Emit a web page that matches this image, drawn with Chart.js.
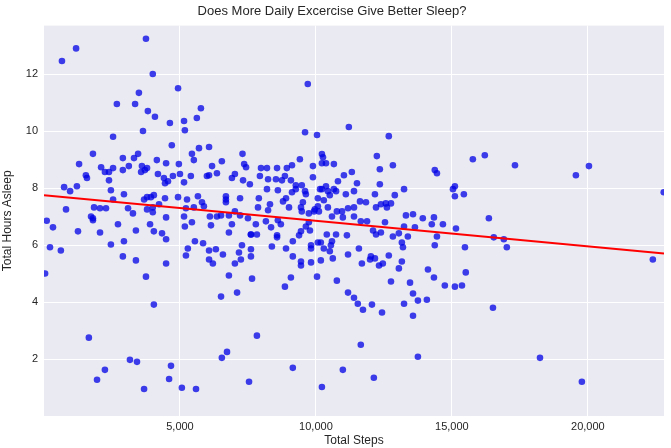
<!DOCTYPE html>
<html><head><meta charset="utf-8">
<script src="https://cdn.jsdelivr.net/npm/chart.js@4"></script>
<style>html,body{margin:0;padding:0;background:#fff}#w{width:671px;height:448px}</style>
</head><body><div id="w"><canvas id="c"></canvas></div>
<script>
const steps = [660,1180,3750,4000,4930,3490,2680,3350,3820,4080,4630,5150,5180,5620,5770,3640,2540,4700,
1800,3460,5440,5700,6070,7300,1290,2900,3310,4150,4490,4960,5510,6180,6540,7360,7430,
1540,1580,2100,2240,2390,2390,2540,2900,3120,3570,3710,3790,3600,4190,4410,4450,4560,4740,5000,5150,5400,5990,6070,6360,6910,7020,7320,7570,
740,960,1210,2460,2940,2540,3680,3790,3930,4040,4450,4930,5260,5660,5810,5880,6690,6690,6690,7210,
810,1840,2060,2280,3090,3790,4000,4230,5220,5510,3270,4000,4490,1730,1800,5150,6100,6360,6510,6800,7020,7210,7500,
330,1250,1800,2720,2060,3380,3900,4040,4340,4490,2460,2940,220,620,2900,3380,4490,40,3750,4040,1650,3160,3420,2240,1950,4670,4600,3680,5070,5590,7540,6540,6730,6510,7100,6800,7650,
5180,5440,6140,6910,6800,7610,5290,5550,5850,6070,6320,5220,6070,6210,6580,7170,7240,7020,7280,7610,7610,100,
9700,11210,9600,10040,12680,10220,10260,12240,9410,9120,9890,10220,10370,10660,12350,12830,14370,14450,
7980,8200,8570,8930,7940,8240,8530,8750,8860,9080,9260,9480,9890,10810,11030,11320,11510,12350,
8200,8600,9120,9260,9600,9630,10150,10220,10370,10440,10660,10740,11100,11400,12170,12900,13240,15040,15110,15110,
7900,8310,8790,8900,9010,7870,8240,9450,9520,10070,10290,10510,10070,10110,9960,10440,9480,9740,9930,10770,10960,11180,11400,11620,11840,12210,12390,12570,12760,12610,10590,10990,11400,13310,13570,13930,14340,
7790,8160,8600,8710,8350,7610,7830,8570,8570,9380,9450,9630,9780,9740,9150,8380,8900,9820,9820,10070,10180,10400,10740,10590,10550,10290,10510,11140,11580,
9150,9450,9450,9820,10180,10620,11180,11690,11990,12020,12170,12320,12460,12680,13160,13050,13200,13160,12830,13050,13380,13240,13640,14260,14670,14370,14450,15150,12100,12210,12390,12540,11880,11650,
9080,8860,10040,10770,11180,11400,11540,11730,12060,12430,12760,13240,13460,13570,13750,14080,13570,14120,14340,14740,15110,7830,11650,13750,9150,10990,12130,10220,
15770,16210,17320,19560,20040,22790,15440,16360,16540,16910,17020,15480,15510,15370,16510,18240,19780,22390];
const hours = [12.46,12.9,13.24,12.0,11.5,11.34,10.95,10.95,10.7,10.5,10.28,10.35,10.03,10.46,10.8,10.0,9.8,9.5,
9.2,9.2,9.2,9.4,9.44,9.2,8.84,9.05,9.05,8.98,8.87,8.84,8.98,8.77,8.94,8.84,8.73,
8.45,8.35,8.73,8.56,8.56,8.27,8.7,8.63,8.77,8.56,8.63,8.7,8.77,8.49,8.35,8.17,8.24,8.42,8.49,8.2,8.42,8.42,8.45,8.52,8.35,8.49,8.27,8.13,
8.03,7.89,8.06,7.92,7.78,7.6,7.6,7.68,7.68,7.75,7.64,7.68,7.6,7.71,7.5,7.36,7.71,7.6,7.5,7.64,
7.25,7.32,7.29,7.29,7.29,7.25,7.32,7.43,7.29,7.32,7.11,7.15,6.97,7.0,6.94,7.0,7.0,7.0,7.04,7.04,7.18,7.04,6.94,
6.62,6.48,6.87,6.73,6.44,6.51,6.73,6.48,6.41,6.2,6.02,6.13,5.92,5.81,5.6,5.46,5.35,5.0,4.89,3.91,2.75,1.97,1.9,1.62,1.27,1.76,1.3,0.95,0.99,0.95,1.2,2.04,2.25,4.19,4.33,4.93,4.82,
6.65,6.8,6.69,6.73,6.44,6.37,5.88,6.13,6.06,5.81,5.85,5.63,5.49,5.35,5.67,5.74,5.49,5.35,5.99,5.85,5.6,6.85,
11.65,10.14,9.96,9.86,9.82,9.19,9.08,9.12,9.01,8.8,8.77,8.87,8.87,8.84,8.66,8.8,8.63,8.52,
8.7,8.7,8.7,8.7,8.42,8.31,8.31,8.27,8.42,8.27,8.1,8.1,8.38,8.24,8.45,8.56,8.17,8.13,
7.96,7.92,7.85,7.96,7.89,7.78,7.96,7.96,8.06,7.89,7.96,7.89,7.78,7.89,7.78,7.75,7.96,7.96,8.06,7.71,
7.64,7.43,7.53,7.64,7.32,7.32,7.22,7.32,7.5,7.64,7.57,7.75,7.36,7.18,7.25,7.32,7.18,7.11,7.18,7.18,7.18,7.29,7.32,7.53,7.5,7.32,7.43,7.46,7.46,7.32,7.0,6.97,7.0,7.04,7.08,6.94,6.97,
6.73,6.83,6.87,6.73,6.62,6.37,6.37,6.34,6.27,6.34,6.48,6.65,6.51,6.8,6.13,5.95,5.88,5.99,5.88,6.09,6.09,6.37,6.37,6.13,5.99,5.88,5.78,6.34,5.88,
5.6,5.42,5.28,5.39,5.46,5.53,5.67,5.35,5.49,5.6,5.53,5.28,5.35,5.63,5.42,5.18,5.92,6.09,6.3,6.41,6.3,6.65,6.62,6.73,6.73,5.99,6.3,6.58,6.51,6.37,6.44,6.8,6.83,6.83,
4.86,4.54,4.89,4.75,4.33,4.15,3.94,3.73,3.91,3.63,4.72,3.94,4.68,4.3,4.05,4.08,3.52,5.14,4.86,4.58,4.54,2.82,2.5,2.08,1.69,1.62,1.34,1.02,
9.01,9.15,8.8,8.45,8.77,7.85,7.78,6.94,6.27,6.2,5.92,5.92,5.04,4.58,3.8,2.04,1.2,5.49];
const fitX = [0, 22800];
const fitY = [7.75, 5.7];
const xTicks = [5000,10000,15000,20000];
const yTicks = [2,4,6,8,10,12];

const pts = steps.map((s,i)=>({x:s,y:hours[i]}));
const fit = fitX.map((s,i)=>({x:s,y:fitY[i]}));
const bg = {id:'bg',beforeDraw(c){const a=c.chartArea,x=c.ctx;x.save();x.fillStyle='#EAEAF2';x.fillRect(a.left,a.top,a.right-a.left,a.bottom-a.top);x.restore();}};
const F = "'Liberation Sans', Arial, sans-serif";
new Chart(document.getElementById('c'),{
  type:'scatter',
  data:{datasets:[
    {type:'line',data:fit,borderColor:'#FF0000',borderWidth:2,pointRadius:0,fill:false,order:0},
    {data:pts,backgroundColor:'rgba(0,0,230,0.75)',borderWidth:0,pointRadius:3.3,order:1}
  ]},
  options:{responsive:true,maintainAspectRatio:false,animation:false,
    layout:{padding:{right:7,left:0,top:0,bottom:0}},
    plugins:{legend:{display:false},tooltip:{enabled:false},
      title:{display:true,text:'Does More Daily Excercise Give Better Sleep?',color:'#262626',font:{family:F,size:13,weight:'normal'},padding:{top:4,bottom:6}}},
    scales:{
      x:{type:'linear',min:0,max:22800,
        afterBuildTicks(a){a.ticks=xTicks.map(v=>({value:v}));},
        afterFit(a){a.height=32;},
        grid:{color:'#fff',lineWidth:1,drawTicks:false},border:{display:false},
        ticks:{color:'#262626',font:{family:F,size:11},padding:4},
        title:{display:true,text:'Total Steps',color:'#262626',font:{family:F,size:12},padding:{top:0,bottom:0}}},
      y:{min:0,max:13.7,
        afterBuildTicks(a){a.ticks=yTicks.map(v=>({value:v}));},
        afterFit(a){a.width=44;},
        grid:{color:'#fff',lineWidth:1,drawTicks:false},border:{display:false},
        ticks:{color:'#262626',font:{family:F,size:11},padding:6},
        title:{display:true,text:'Total Hours Asleep',color:'#262626',font:{family:F,size:12},padding:{top:0,bottom:4}}}
    }},
  plugins:[bg]
});
</script></body></html>
